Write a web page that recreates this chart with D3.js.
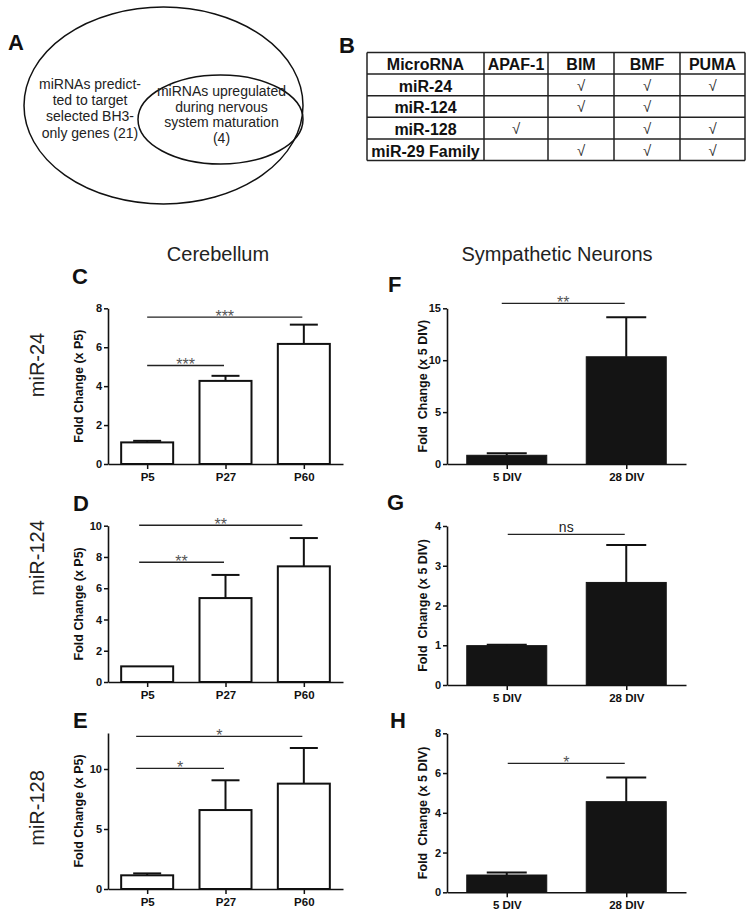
<!DOCTYPE html>
<html><head><meta charset="utf-8">
<script src="https://cdn.jsdelivr.net/npm/d3@7"></script>
<style>
html,body{margin:0;padding:0;background:#fff;}
svg{display:block;font-family:"Liberation Sans",Arial,Helvetica,sans-serif;}
</style></head><body>
<svg id="fig" width="754" height="916"></svg>
<script>
// ---------------- DATA ----------------
// Panel A (Venn)
const vennOuterText = ["miRNAs predict-", "ted to target", "selected BH3-", "only genes (21)"];
const vennInnerText = ["miRNAs upregulated", "during nervous", "system maturation", "(4)"];
// Panel B (table)
const tableHeader = ["MicroRNA", "APAF-1", "BIM", "BMF", "PUMA"];
const microRNAs = ["miR-24", "miR-124", "miR-128", "miR-29 Family"];
const targetAPAF1 = [false, false, true, false];
const targetBIM   = [true, true, false, true];
const targetBMF   = [true, true, true, true];
const targetPUMA  = [true, false, true, true];
// Bar charts
const cerebCats = ["P5", "P27", "P60"];
const sympCats = ["5 DIV", "28 DIV"];
const rowLabels = ["miR-24", "miR-124", "miR-128"];
const columnTitles = ["Cerebellum", "Sympathetic Neurons"];

const miR24Cereb = [1.11, 4.27, 6.17];
const miR24CerebErr = [0.08, 0.26, 0.99];
const miR124Cereb = [1.0, 5.37, 7.40];
const miR124CerebErr = [0, 1.48, 1.81];
const miR128Cereb = [1.14, 6.58, 8.78];
const miR128CerebErr = [0.16, 2.48, 2.97];

const miR24Symp = [0.84, 10.33];
const miR24SympErr = [0.19, 3.80];
const miR124Symp = [0.99, 2.58];
const miR124SympErr = [0.02, 0.94];
const miR128Symp = [0.87, 4.56];
const miR128SympErr = [0.13, 1.21];

const ticksC = [0, 2, 4, 6, 8];
const ticksD = [0, 2, 4, 6, 8, 10];
const ticksE = [0, 5, 10];
const ticksF = [0, 5, 10, 15];
const ticksG = [0, 1, 2, 3, 4];
const ticksH = [0, 2, 4, 6, 8];

const sigC = [{from: "P5", to: "P60", y: 7.55, label: "***"}, {from: "P5", to: "P27", y: 5.06, label: "***"}];
const sigD = [{from: "P5", to: "P60", y: 10.03, label: "**"}, {from: "P5", to: "P27", y: 7.66, label: "**"}];
const sigE = [{from: "P5", to: "P60", y: 12.72, label: "*"}, {from: "P5", to: "P27", y: 10.06, label: "*"}];
const sigF = [{from: "5 DIV", to: "28 DIV", y: 15.48, label: "**"}];
const sigG = [{from: "5 DIV", to: "28 DIV", y: 3.79, label: "ns"}];
const sigH = [{from: "5 DIV", to: "28 DIV", y: 6.49, label: "*"}];

// ---------------- DRAWING ----------------
const svg = d3.select("#fig");
const FONT = '"Liberation Sans",Arial,Helvetica,sans-serif';

function letter(t, x, y) {
  svg.append("text").attr("x", x).attr("y", y).text(t)
    .attr("font-size", 22).attr("font-weight", "bold").attr("fill", "#111");
}

// Panel A
letter("A", 8, 50);
svg.append("ellipse").attr("cx", 163.5).attr("cy", 105.5).attr("rx", 139.5).attr("ry", 98.5)
  .attr("fill", "none").attr("stroke", "#111").attr("stroke-width", 1.5);
svg.append("ellipse").attr("cx", 220.5).attr("cy", 119.5).attr("rx", 82.5).attr("ry", 44.5)
  .attr("fill", "none").attr("stroke", "#111").attr("stroke-width", 1.5);
svg.append("g").selectAll("text").data(vennOuterText).join("text")
  .attr("x", 90).attr("y", (d, i) => 89 + i * 16.2).attr("text-anchor", "middle")
  .attr("font-size", 14).attr("fill", "#222").text(d => d);
svg.append("g").selectAll("text").data(vennInnerText).join("text")
  .attr("x", 221.5).attr("y", (d, i) => 96 + i * 15.6).attr("text-anchor", "middle")
  .attr("font-size", 14).attr("fill", "#222").text(d => d);

// Panel B
letter("B", 339, 53);
const colX = [367, 484, 548, 614, 680, 745];
const rowY = [52.5, 74, 95.7, 117.3, 139, 160.5];
const tb = svg.append("g");
const rows = [tableHeader].concat(microRNAs.map((m, i) => [m,
  targetAPAF1[i] ? "\u221A" : "", targetBIM[i] ? "\u221A" : "",
  targetBMF[i] ? "\u221A" : "", targetPUMA[i] ? "\u221A" : ""]));
rows.forEach((r, ri) => {
  r.forEach((c, ci) => {
    if (!c) return;
    const isCheck = c === "\u221A";
    tb.append("text").attr("x", (colX[ci] + colX[ci + 1]) / 2)
      .attr("y", rowY[ri] + (isCheck ? 16.5 : 17.5)).attr("text-anchor", "middle")
      .attr("font-size", isCheck ? 15 : 16).attr("font-weight", isCheck ? "normal" : "bold")
      .attr("fill", isCheck ? "#333" : "#111").text(c);
  });
});
colX.forEach(x => tb.append("line").attr("x1", x).attr("x2", x).attr("y1", rowY[0]).attr("y2", rowY[rowY.length - 1])
  .attr("stroke", "#222").attr("stroke-width", 1.5));
rowY.forEach(y => tb.append("line").attr("x1", colX[0]).attr("x2", colX[colX.length - 1]).attr("y1", y).attr("y2", y)
  .attr("stroke", "#222").attr("stroke-width", 1.5));

// Column titles and row labels
svg.append("text").attr("x", 218).attr("y", 261).attr("text-anchor", "middle").attr("font-size", 20).attr("fill", "#222").text(columnTitles[0]);
svg.append("text").attr("x", 557).attr("y", 261).attr("text-anchor", "middle").attr("font-size", 20).attr("fill", "#222").text(columnTitles[1]);
const rowLabelY = [365, 558, 808];
rowLabels.forEach((t, i) => {
  svg.append("text").attr("transform", `translate(44,${rowLabelY[i]}) rotate(-90)`)
    .attr("text-anchor", "middle").attr("font-size", 20).attr("fill", "#222").text(t);
});

function drawPanel(cfg) {
  const g = svg.append("g");
  const x = d3.scalePoint().domain(cfg.cats).range([cfg.x0, cfg.x1]).padding(0.5);
  const y = d3.scaleLinear().domain([0, cfg.ymax]).range([cfg.yBottom, cfg.yTop]);

  // bars
  g.selectAll("rect.bar").data(cfg.values).join("rect").attr("class", "bar")
    .attr("x", (d, i) => x(cfg.cats[i]) - cfg.barW / 2)
    .attr("y", d => y(d)).attr("width", cfg.barW).attr("height", d => y(0) - y(d))
    .attr("fill", cfg.fill).attr("stroke", cfg.fill === "#fff" ? "#111" : cfg.fill)
    .attr("stroke-width", cfg.fill === "#fff" ? 2 : 1);
  // error bars (upper only)
  cfg.values.forEach((v, i) => {
    const e = cfg.errs[i];
    if (!(e > 0)) return;
    const cx = x(cfg.cats[i]);
    g.append("line").attr("x1", cx).attr("x2", cx).attr("y1", y(v)).attr("y2", y(v + e))
      .attr("stroke", "#111").attr("stroke-width", 2);
    g.append("line").attr("x1", cx - cfg.capW / 2).attr("x2", cx + cfg.capW / 2).attr("y1", y(v + e)).attr("y2", y(v + e))
      .attr("stroke", "#111").attr("stroke-width", 2);
  });

  // axes
  const ya = g.append("g").attr("transform", `translate(${cfg.x0},0)`)
    .call(d3.axisLeft(y).tickValues(cfg.ticks).tickFormat(d3.format("d")).tickSize(4).tickSizeOuter(0).tickPadding(2));
  const xa = g.append("g").attr("transform", `translate(0,${cfg.yBottom})`)
    .call(d3.axisBottom(x).tickSize(5).tickSizeOuter(0).tickPadding(4));
  [ya, xa].forEach(a => {
    a.select(".domain").attr("stroke", "#111").attr("stroke-width", 1.6);
    a.selectAll(".tick line").attr("stroke", "#111").attr("stroke-width", 1.5);
    a.selectAll(".tick text").attr("fill", "#111").attr("font-weight", "bold").attr("font-family", FONT);
  });
  ya.selectAll(".tick text").attr("font-size", 11);
  xa.selectAll(".tick text").attr("font-size", 11.5);

  // y title
  g.append("text").attr("transform", `translate(${cfg.titleX},${(cfg.yBottom + cfg.yTop) / 2}) rotate(-90)`)
    .attr("text-anchor", "middle").attr("font-size", 12.5).attr("font-weight", "bold")
    .style("white-space", "pre").attr("fill", "#111").text(cfg.yTitle);

  // significance
  cfg.sig.forEach(s => {
    const xa0 = x(s.from) + (cfg.sigShift || 0), xa1 = x(s.to) - 1.5;
    g.append("line").attr("x1", xa0).attr("x2", xa1).attr("y1", y(s.y)).attr("y2", y(s.y))
      .attr("stroke", "#222").attr("stroke-width", 1.3);
    const isNs = s.label === "ns";
    g.append("text").attr("x", (xa0 + xa1) / 2).attr("y", y(s.y) + (isNs ? -2.5 : 4.5))
      .attr("text-anchor", "middle").attr("font-size", isNs ? 14 : 16)
      .attr("fill", isNs ? "#222" : "#555").text(s.label);
  });

  letter(cfg.letter, cfg.letterX, cfg.letterY);
}

const L = {x0: 108, x1: 343, barW: 52, capW: 28, fill: "#fff", titleX: 83, yTitle: "Fold Change (x P5)"};
const R = {x0: 447, x1: 686, barW: 80, capW: 40, fill: "#141414", titleX: 427, yTitle: "Fold  Change (x 5 DIV)"};

drawPanel(Object.assign({}, L, {cats: cerebCats, values: miR24Cereb, errs: miR24CerebErr, ymax: 8, ticks: ticksC,
  yBottom: 464, yTop: 308.3, sig: sigC, letter: "C", letterX: 72, letterY: 284}));
drawPanel(Object.assign({}, L, {cats: cerebCats, values: miR124Cereb, errs: miR124CerebErr, ymax: 10, ticks: ticksD,
  yBottom: 682, yTop: 525.7, sig: sigD, sigShift: -8, letter: "D", letterX: 73, letterY: 510.5}));
drawPanel(Object.assign({}, L, {cats: cerebCats, values: miR128Cereb, errs: miR128CerebErr, ymax: 13, ticks: ticksE,
  yBottom: 889, yTop: 733, sig: sigE, sigShift: -11, letter: "E", letterX: 73, letterY: 728}));
drawPanel(Object.assign({}, R, {cats: sympCats, values: miR24Symp, errs: miR24SympErr, ymax: 15, ticks: ticksF,
  yBottom: 464, yTop: 308.3, sig: sigF, sigShift: -5, letter: "F", letterX: 388, letterY: 292}));
drawPanel(Object.assign({}, R, {cats: sympCats, values: miR124Symp, errs: miR124SympErr, ymax: 4, ticks: ticksG,
  yBottom: 685, yTop: 526, sig: sigG, sigShift: 1, letter: "G", letterX: 387, letterY: 510}));
drawPanel(Object.assign({}, R, {cats: sympCats, values: miR128Symp, errs: miR128SympErr, ymax: 8, ticks: ticksH,
  yBottom: 892.3, yTop: 733.3, sig: sigH, sigShift: 1, letter: "H", letterX: 390, letterY: 728}));
</script>
</body></html>
